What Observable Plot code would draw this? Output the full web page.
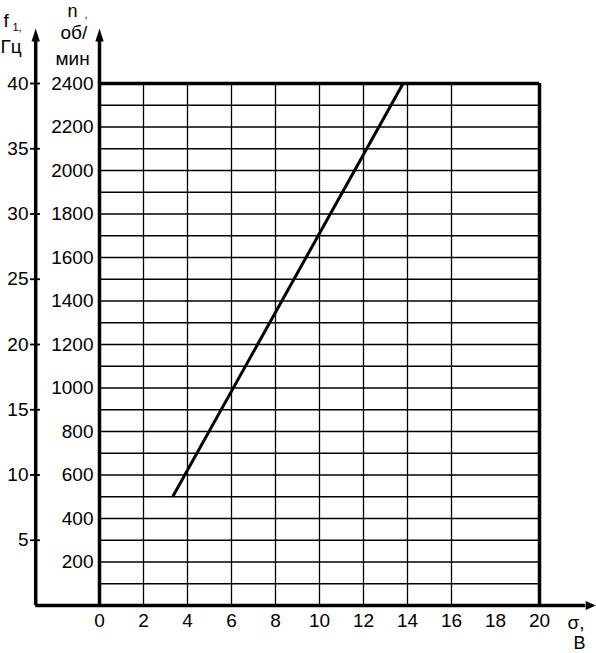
<!DOCTYPE html>
<html><head><meta charset="utf-8">
<script src="https://cdn.jsdelivr.net/npm/d3@7"></script>
<script src="https://cdn.jsdelivr.net/npm/@observablehq/plot@0.6"></script>
<style>body{margin:0;background:#fff} svg{display:block} svg text{font-family:"Liberation Sans",Arial,sans-serif !important}</style>
</head><body><div id="chart"></div>
<script>
// --- data ---
const sigmaTicks = [0, 2, 4, 6, 8, 10, 12, 14, 16, 18, 20];
const sigmaGrid = [2, 4, 6, 8, 10, 12, 14, 16];
const nTicks = [200, 400, 600, 800, 1000, 1200, 1400, 1600, 1800, 2000, 2200, 2400];
const nGrid = [100, 200, 300, 400, 500, 600, 700, 800, 900, 1000, 1100, 1200, 1300, 1400, 1500, 1600, 1700, 1800, 1900, 2000, 2100, 2200, 2300];
const f1Ticks = [5, 10, 15, 20, 25, 30, 35, 40];
const rpmPerHz = 60;               // 40 Гц ↔ 2400 об/мин
const lineSigma = [3.35, 13.8];
const lineN = [505, 2400];
const sigmaMax = 20, nMax = 2400;
const f1AxisSigma = -2.9;          // position of the f1 axis, in σ units
const nAxisTop = 2593;             // top end of the vertical axes, in n units
const sigmaAxisEnd = 22.1;         // right end of the horizontal axis, in σ units

const lineData = lineSigma.map((s, i) => ({s, n: lineN[i]}));

const arrowUp = {draw(ctx, size) {
  const r = Math.sqrt(size / Math.PI);
  ctx.moveTo(0, -r); ctx.lineTo(0.32 * r, 0); ctx.lineTo(-0.32 * r, 0); ctx.closePath();
}};
const arrowRight = {draw(ctx, size) {
  const r = Math.sqrt(size / Math.PI);
  ctx.moveTo(r, 0); ctx.lineTo(0, 0.45 * r); ctx.lineTo(0, -0.45 * r); ctx.closePath();
}};

const FONT = "'Liberation Sans', Arial, sans-serif";
const W = 596, H = 653, ML = 99, MR = 57, MT = 83, MB = 48;
function label(str, px, py, opts = {}) {
  return Plot.text([str], {frameAnchor: "top-left", dx: px - ML, dy: py - MT,
    text: d => d, textAnchor: "start", lineAnchor: "bottom", fontSize: 19, fontFamily: FONT, fill: "black", ...opts});
}
const fmt = d3.format("d");

const chart = Plot.plot({
  width: W, height: H,
  marginLeft: ML, marginRight: MR, marginTop: MT, marginBottom: MB,
  x: {domain: [0, sigmaMax]},
  y: {domain: [0, nMax]},
  style: {fontFamily: FONT, fontSize: "19px", background: "white", color: "black", overflow: "visible"},
  marks: [
    // grid
    Plot.ruleY(nGrid, {x1: 0, x2: sigmaMax, stroke: "black", strokeWidth: 1.3}),
    Plot.ruleX(sigmaGrid, {y1: 0, y2: nMax, stroke: "black", strokeWidth: 1.3}),
    // frame top & right
    Plot.ruleY([nMax], {x1: 0, x2: sigmaMax, stroke: "black", strokeWidth: 3.5}),
    Plot.ruleX([sigmaMax], {y1: 0, y2: nMax, stroke: "black", strokeWidth: 3.5}),
    // n axis
    Plot.ruleX([0], {y1: 0, y2: nAxisTop, stroke: "black", strokeWidth: 3.5}),
    Plot.dot([0], {x: d => d, y: () => nAxisTop, symbol: arrowUp, r: 13, fill: "black", stroke: "none"}),
    // f1 axis
    Plot.ruleX([f1AxisSigma], {y1: 0, y2: nAxisTop, stroke: "black", strokeWidth: 3.5}),
    Plot.dot([f1AxisSigma], {x: d => d, y: () => nAxisTop, symbol: arrowUp, r: 13, fill: "black", stroke: "none"}),
    // sigma axis
    Plot.ruleY([0], {x1: f1AxisSigma, x2: sigmaAxisEnd, stroke: "black", strokeWidth: 3.5}),
    Plot.dot([sigmaAxisEnd], {x: d => d, y: () => 0, symbol: arrowRight, r: 10, fill: "black", stroke: "none"}),
    // axes labels
    Plot.axisX(sigmaTicks, {tickSize: 0, tickPadding: 8, label: null, fontSize: 19, fontFamily: FONT, tickFormat: fmt}),
    Plot.axisY(nTicks, {anchor: "left", tickSize: 0, tickPadding: 6, label: null, fontSize: 19, fontFamily: FONT, tickFormat: fmt}),
    Plot.axisY(f1Ticks.map(f => f * rpmPerHz), {anchor: "left", dx: -59, tickSize: 10, tickPadding: 2,
      tickFormat: d => fmt(d / rpmPerHz), label: null, strokeWidth: 1.8, fontSize: 19, fontFamily: FONT}),
    // data line
    Plot.line(lineData, {x: "s", y: "n", stroke: "black", strokeWidth: 3}),
    // titles
    label("f", 3, 26),
    label("1,", 12, 30, {fontSize: 11}),
    label("Гц", 0, 52),
    label("n", 67, 16, {fontSize: 18}),
    label(",", 84, 17, {fontSize: 11}),
    label("об/", 60, 38),
    label("мин", 55, 64),
    label("σ,", 567, 628),
    label("В", 573, 648, {fontSize: 18})
  ]
});
document.getElementById("chart").append(chart);
</script>
</body></html>
